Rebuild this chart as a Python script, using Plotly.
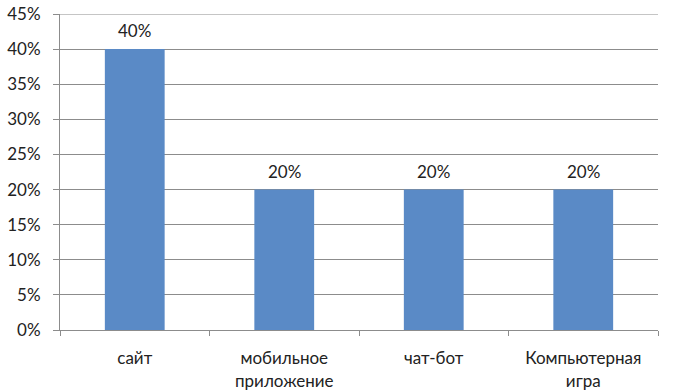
import plotly.graph_objects as go

categories = ["сайт", "мобильное<br>приложение", "чат-бот", "Компьютерная<br>игра"]
values = [0.40, 0.20, 0.20, 0.20]
value_labels = ["40%", "20%", "20%", "20%"]
y_ticks = [0.0, 0.05, 0.10, 0.15, 0.20, 0.25, 0.30, 0.35, 0.40, 0.45]

BAR = "#5A8AC6"
GRID = "#8C8C8C"
FONT = "Lato, 'Open Sans', sans-serif"
FS = 17

fig = go.Figure()
fig.add_trace(go.Bar(x=categories, y=values, marker=dict(color=BAR, line=dict(width=0)),
                     width=0.4, hoverinfo="skip"))

for c, v, t in zip(categories, values, value_labels):
    fig.add_annotation(x=c, y=v, text=t, showarrow=False, yanchor="bottom", yshift=6,
                       font=dict(family=FONT, size=FS, color="#222222"))

# top gridline (plotly drops the gridline lying exactly on the plot edge)
fig.add_shape(type="line", xref="paper", x0=0, x1=1, yref="y", y0=y_ticks[-1], y1=y_ticks[-1],
              line=dict(color=GRID, width=1), layer="below")

fig.update_layout(
    width=673, height=390,
    margin=dict(l=60, r=15, t=14, b=60),
    paper_bgcolor="white", plot_bgcolor="white",
    showlegend=False,
    font=dict(family=FONT, size=FS, color="#222222"),
    bargap=0.6,
)
fig.update_xaxes(
    type="category", tickson="boundaries", ticks="outside", ticklen=5, tickcolor=GRID,
    showline=True, linecolor=GRID, linewidth=1, showgrid=False, automargin=False,
    tickfont=dict(family=FONT, size=FS, color="#222222"), ticklabelstandoff=13,
)
fig.update_yaxes(
    range=[0, 0.45], tickvals=y_ticks, tickformat=".0%",
    ticks="outside", ticklen=6, tickcolor=GRID,
    showline=True, linecolor=GRID, linewidth=1, showgrid=True, gridcolor=GRID, gridwidth=1,
    zeroline=False, automargin=False,
    tickfont=dict(family=FONT, size=FS, color="#222222"), ticklabelstandoff=9,
)

fig.write_html("out.html", config={"displayModeBar": False},
               post_script="document.body.style.margin='0';")
